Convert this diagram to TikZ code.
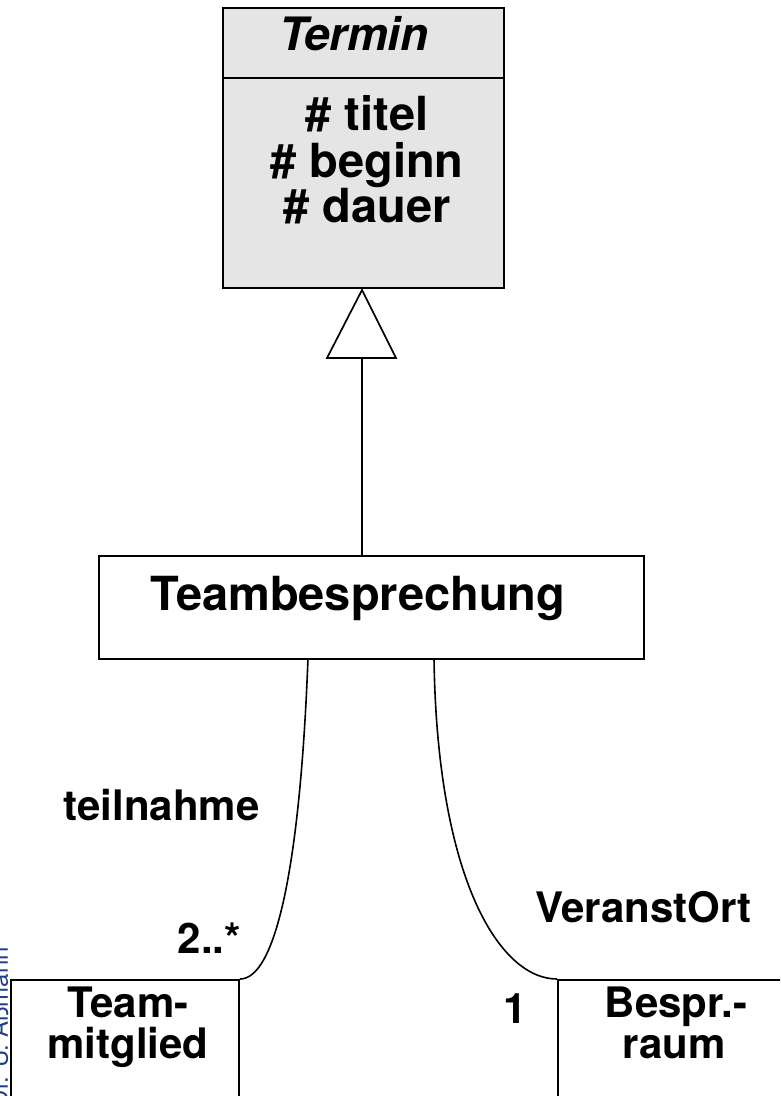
\documentclass[tikz,border=0pt]{standalone}
\usepackage{fontspec}
\setmainfont{TeX Gyre Heros}
\usetikzlibrary{calc}
\definecolor{termgray}{gray}{0.9}
\definecolor{authblue}{rgb}{0.12,0.24,0.56}
\begin{document}
\begin{tikzpicture}[x=1pt,y=-1pt,
  classbox/.style={draw, line width=2pt, inner sep=0pt, anchor=north west},
  nametxt/.style={font=\fontsize{47}{47}\selectfont\bfseries, inner sep=0pt, anchor=base},
  abstxt/.style={font=\fontsize{46}{46}\selectfont\bfseries\itshape, inner sep=0pt, anchor=base},
  lbl/.style={font=\fontsize{42}{42}\selectfont\bfseries, inner sep=0pt, anchor=base},
  assoc/.style={line width=1.6pt},
  genline/.style={line width=1.7pt},
]
\useasboundingbox (0,0) rectangle (780,1096);
\begin{scope}
\clip (0,0) rectangle (780,1096);
% classes
\node[classbox, fill=termgray, minimum width=281pt, minimum height=280pt] (termin) at (222,7) {};
\draw[line width=2pt] (termin.west |- 0,78) -- (termin.east |- 0,78);
\node[abstxt] (tname) at (354,50) {Termin};
\node[nametxt] (a1) at (367,130) {\# titel};
\node[nametxt] (a2) at (367,177) {\# beginn};
\node[nametxt] (a3) at (367,222) {\# dauer};

\node[classbox, fill=white, minimum width=545pt, minimum height=103pt] (tb) at (98,555) {};
\node[nametxt] (tbname) at (358,610) {Teambesprechung};

\node[classbox, minimum width=228pt, minimum height=200pt] (tm) at (10,979) {};
\node[lbl] (tm1) at (128,1017) {Team-};
\node[lbl] (tm2) at (128,1058) {mitglied};

\node[classbox, minimum width=300pt, minimum height=200pt] (br) at (557,979) {};
\node[lbl] (br1) at (676,1017) {Bespr.-};
\node[lbl] (br2) at (674,1058) {raum};

% generalization
\coordinate (apex) at (362,290);
\coordinate (tribase) at (362,358);
\draw[genline, fill=white] (apex) -- (327,358) -- (396,358) -- cycle;
\draw[genline] (tribase) -- (tribase |- tb.north);

% associations
\coordinate (s1) at (308,658);
\coordinate (s2) at (434,658);
\draw[assoc] (s1) .. controls (300,870) and (275,979) .. (tm.north east);
\draw[assoc] (s2) .. controls (437,880) and (500,979) .. (br.north west);

\node[lbl] (teil) at (161.5,820) {teilnahme};
\node[lbl, anchor=base east] (mult1) at (241,953) {2..*};
\node[lbl] (vort) at (643.5,922) {VeranstOrt};
\node[lbl] (mult2) at (515,1023) {1};

% author
\node[rotate=90, anchor=base east, font=\fontsize{24}{24}\selectfont, text=authblue, inner sep=0pt] (auth) at (8,947) {Prof. Dr. U. Aßmann};
\end{scope}
\end{tikzpicture}
\end{document}
